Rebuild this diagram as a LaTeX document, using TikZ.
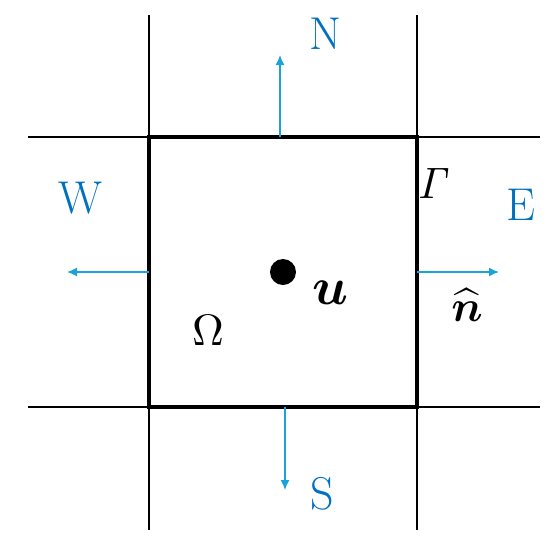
\documentclass[tikz,border=0pt]{standalone}
\usepackage{amsmath,bm}
\usetikzlibrary{arrows.meta}
\definecolor{lblblue}{HTML}{0070C0}
\definecolor{arrcyan}{HTML}{1AA3D9}
\begin{document}
\begin{tikzpicture}[x=1pt,y=-1pt,
  grid/.style={line width=1.3pt,black},
  cell/.style={line width=3.8pt,black},
  normal/.style={line width=1.4pt,arrcyan,-{Latex[length=10pt,width=9pt]}},
  dir/.style={text=lblblue,font=\fontsize{46}{50}\selectfont,inner sep=0pt},
  sym/.style={text=black,inner sep=0pt,scale=4.4}]
\useasboundingbox (0,0) rectangle (558,547);
% grid lines
\draw[grid] (149,15) -- (149,530);
\draw[grid] (417,15) -- (417,530);
\draw[grid] (28,137) -- (540,137);
\draw[grid] (28,407) -- (540,407);
% control volume
\draw[cell] (149,137) rectangle (417,407);
% face points and arrow ends
\coordinate (fN) at (280,137);
\coordinate (tN) at (280,55);
\coordinate (fW) at (149,272);
\coordinate (tW) at (67,272);
\coordinate (fE) at (417,272);
\coordinate (tE) at (499,272);
\coordinate (fS) at (285,407);
\coordinate (tS) at (285,490);
\draw[normal] (fN) -- (tN);
\draw[normal] (fW) -- (tW);
\draw[normal] (fE) -- (tE);
\draw[normal] (fS) -- (tS);
% labels
\node[dir] (N) at (325,34) {N};
\node[dir] (W) at (80,198) {W};
\node[dir] (E) at (521,205) {E};
\node[dir] (S) at (322,494) {S};
\node[sym] (G) at (434,183) {$\mathit{\Gamma}$};
\node[sym] (nh) at (467,305) {$\bm{\widehat{n}}$};
\node[sym] (Om) at (208,330) {$\Omega$};
\node[circle,fill=black,minimum size=26pt,inner sep=0pt] (dot) at (283,272) {};
\node[sym,scale=1.2] (u) at (330,293) {$\bm{u}$};
\end{tikzpicture}
\end{document}
